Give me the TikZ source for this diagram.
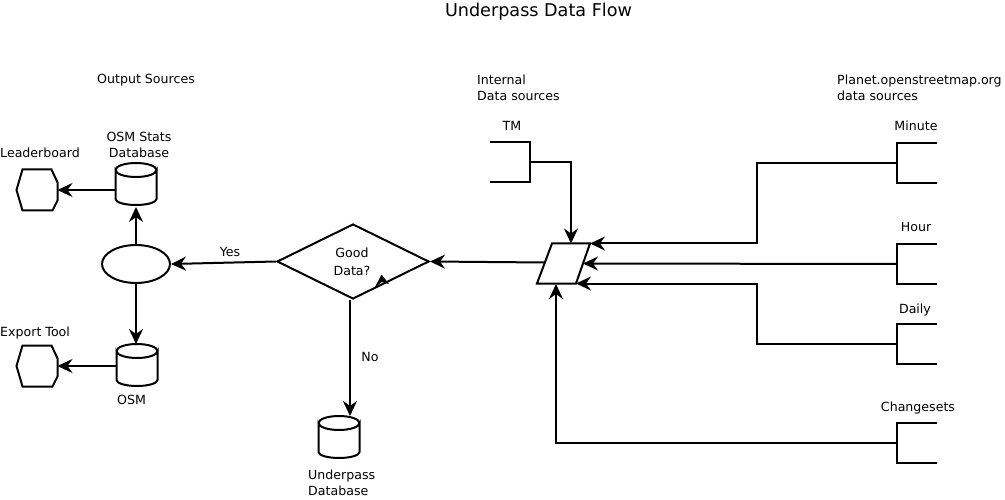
\documentclass[tikz,border=0pt]{standalone}
\usepackage{fontspec}
\setmainfont{DejaVu Sans}
\usetikzlibrary{arrows.meta,shapes.geometric}
\newcommand\dbcyl[3]{%
  \node[hid,minimum width=41pt,minimum height=42pt] (#1) at (#2,#3) {};
  \draw[ln] ([yshift=-7pt]#1.north west) arc[start angle=180,end angle=360,x radius=20.5pt,y radius=7pt]
    -- ([yshift=6pt]#1.south east) arc[start angle=0,end angle=-180,x radius=20.5pt,y radius=6pt] -- cycle;
  \draw[ln] ([yshift=-7pt]#1.north west) arc[start angle=180,end angle=0,x radius=20.5pt,y radius=7pt];
}
\newcommand\hexa[3]{%
  \node[hid,minimum width=41pt,minimum height=41pt] (#1) at (#2,#3) {};
  \draw[ln] (#1.west) -- ([xshift=6pt]#1.north west) -- ([xshift=-6pt]#1.north east)
    -- ([yshift=-13pt]#1.north east) -- ([yshift=10pt]#1.south east) -- ([xshift=-5pt]#1.south east)
    -- ([xshift=6pt]#1.south west) -- cycle;
}
\newcommand\bracketR[3]{% opens to the right
  \node[hid] (#1) at (#2,#3) {};
  \draw[ln] (#1.north east) -- (#1.north west) -- (#1.south west) -- (#1.south east);
}
\begin{document}
\begin{tikzpicture}[x=1pt,y=-1pt,
  ln/.style={line width=2pt},
  arr/.style={line width=2pt,-{Stealth[length=15pt,width=14pt,inset=5pt]}},
  hid/.style={inner sep=0pt,outer sep=0pt,minimum width=40pt,minimum height=40pt},
  txt/.style={inner sep=0pt,font=\fontsize{12.6}{16}\selectfont},
  ]
\useasboundingbox (0,0) rectangle (1005,500);

% title and group labels
\node[inner sep=0pt,font=\fontsize{17.6}{21}\selectfont,anchor=base] (title) at (538.5,17) {Underpass Data Flow};
\node[txt,anchor=base] (outsrc) at (146,84) {Output Sources};
\node[txt,anchor=base west] (int1) at (477,85) {Internal};
\node[txt,anchor=base west] (int2) at (477,101) {Data sources};
\node[txt,anchor=base west] (pl1) at (837,85) {Planet.openstreetmap.org};
\node[txt,anchor=base west] (pl2) at (837,101) {data sources};

% output side
\hexa{lb}{37}{190}
\node[txt,anchor=base west] (lbl) at (0,158) {Leaderboard};
\dbcyl{c1}{136}{184}
\node[txt,anchor=base] (c1l1) at (139,142) {OSM Stats};
\node[txt,anchor=base] (c1l2) at (139,158) {Database};

\node[ellipse,draw,ln,minimum width=68pt,minimum height=38pt,inner sep=0pt] (e) at (136,264) {};

\dbcyl{c2}{137}{365}
\node[txt,anchor=base] (c2l) at (131.5,404) {OSM};
\hexa{ex}{37}{366}
\node[txt,anchor=base west] (exl) at (0,336) {Export Tool};

\draw[arr] (c1.west |- lb.east) -- (lb.east);
\draw[arr] (e.north) -- ([yshift=-2pt]e.north |- c1.south);
\draw[arr] (e.south) -- (e.south |- c2.north);
\draw[arr] (c2.west |- ex.east) -- (ex.east);

% decision
\node[diamond,draw,ln,minimum width=152pt,minimum height=75pt,inner sep=0pt] (d) at (353,261.5) {};
\node[txt,anchor=base] (g1) at (352,258) {Good};
\node[txt,anchor=base] (g2) at (352,275) {Data?};
\fill (381.5,274.5) -- (389,284) -- (381.5,282) -- (374.5,288) -- cycle;
\draw[arr] (d.west) -- (e.east);
\node[txt,anchor=base] (yes) at (230,257) {Yes};

\dbcyl{c3}{339}{437}
\node[txt,anchor=base west] (c3l1) at (308,479) {Underpass};
\node[txt,anchor=base west] (c3l2) at (308,495) {Database};
\draw[arr] ([xshift=-3pt]d.south) -- ([xshift=-3pt]d.south |- c3.north);
\node[txt,anchor=base] (no) at (370,361) {No};

% merge parallelogram
\coordinate (pTL) at (552,243.5);
\coordinate (pTR) at (590,243.5);
\coordinate (pBR) at (576,283.5);
\coordinate (pBL) at (537,283.5);
\draw[ln] (pTL) -- (pTR) -- (pBR) -- (pBL) -- cycle;
\coordinate (pW) at (545,262.5);
\coordinate (pR) at (583,263.5);
\coordinate (pTM) at (571,243.5);
\coordinate (pBM) at (556,284);
\draw[arr] (pW) -- (d.east);

% internal source
\node[hid] (tm) at (510,162) {};
\draw[ln] (tm.north west) -- (tm.north east) -- (tm.south east) -- (tm.south west);
\node[txt,anchor=base] (tml) at (512,131) {TM};
\draw[arr] (tm.east) -| (pTM);

% planet sources
\bracketR{mn}{917}{163}
\node[txt,anchor=base] (mnl) at (916,131) {Minute};
\bracketR{hr}{917}{264}
\node[txt,anchor=base] (hrl) at (916,232) {Hour};
\bracketR{dy}{917}{344}
\node[txt,anchor=base] (dyl) at (915,313) {Daily};
\bracketR{cs}{917}{443}
\node[txt,anchor=base] (csl) at (918,411) {Changesets};

\draw[arr] (mn.west) -- (757,163) |- (pTR);
\draw[arr] (hr.west) -- (pR);
\draw[arr] (dy.west) -- (757,344) |- (pBR);
\draw[arr] (cs.west) -| (pBM);
\end{tikzpicture}
\end{document}
